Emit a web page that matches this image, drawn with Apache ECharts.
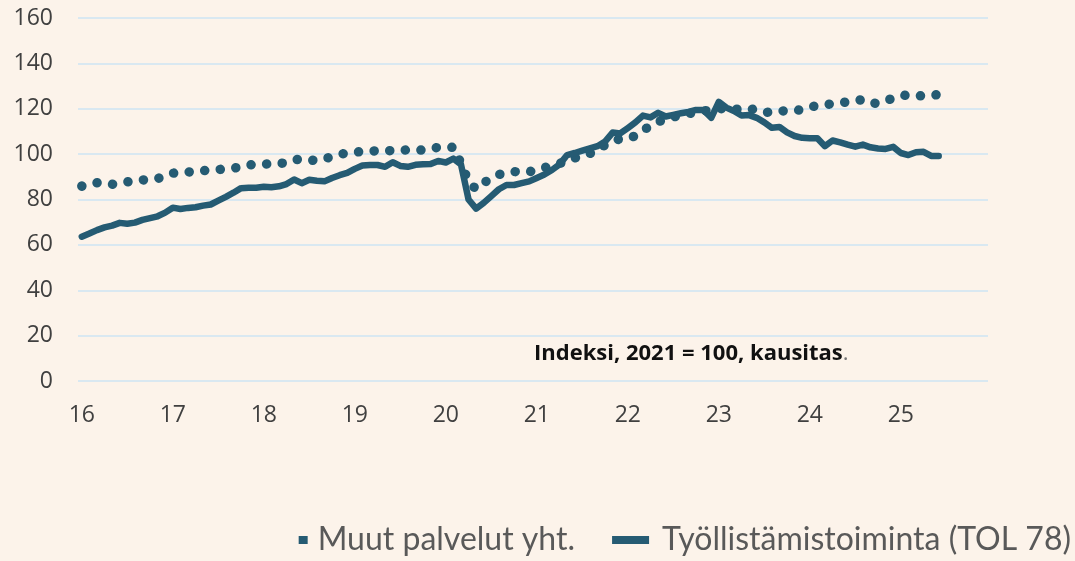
<!DOCTYPE html>
<html>
<head>
    <meta http-equiv="Content-Type" content="text/html; charset=utf-8" />
    <title>Työllistämistoiminta</title>
    <style>
        html, body { margin: 0; padding: 0; background: #fcf3ea; }
        #main { width: 1075px; height: 561px; }
    </style>
</head>
<body>
    <div id="main"></div>
    <script src="https://cdn.jsdelivr.net/npm/echarts@6/dist/echarts.min.js"></script>
    <script type="text/javascript">
        // vuodet x-akselilla (kuukausidata 2016-01 ... 2025-12)
        var years = ['16', '17', '18', '19', '20', '21', '22', '23', '24', '25'];
        var yTicks = [0, 20, 40, 60, 80, 100, 120, 140, 160];

        // Muut palvelut yht. (kuukausittain 2016-01 -> 2025-06)
        var muutPalvelut = [
            85.9, 86.8, 87.4, 87.0, 86.7, 87.2, 87.8, 88.2, 88.6, 88.9, 89.2, 90.5,
            91.6, 91.9, 92.1, 92.4, 92.7, 93.0, 93.2, 93.5, 93.8, 94.4, 95.2, 95.5,
            95.6, 95.7, 95.8, 96.3, 97.5, 97.8, 97.4, 97.2, 98.0, 98.8, 99.8, 100.6,
            100.9, 101.1, 101.3, 101.5, 101.5, 101.5, 101.7, 101.8, 101.8, 101.8, 102.4, 103.0,
            103.0, 103.0, 96.0, 88.0, 84.5, 87.3, 89.5, 91.0, 91.7, 92.3, 92.2, 92.2,
            93.2, 94.0, 95.0, 95.9, 97.0, 98.3, 99.3, 100.3, 102.0, 104.0, 105.6, 106.8,
            107.0, 108.0, 110.5, 112.5, 114.3, 115.3, 116.4, 117.0, 117.8, 118.5, 119.0, 119.5,
            120.0, 120.0, 119.8, 119.8, 120.0, 119.5, 118.4, 118.5, 119.0, 119.1, 119.2, 119.6,
            120.7, 121.4, 121.8, 122.2, 122.6, 123.0, 123.6, 124.0, 122.5, 122.4, 123.6, 124.6,
            125.7, 126.1, 125.7, 125.7, 126.0, 126.2
        ];

        // Työllistämistoiminta (TOL 78)
        var tyollistaminen = [
            63.6, 65.0, 66.5, 67.7, 68.5, 69.7, 69.3, 69.8, 71.0, 71.8, 72.6, 74.2,
            76.4, 75.8, 76.3, 76.6, 77.3, 77.8, 79.5, 81.2, 83.0, 85.0, 85.2, 85.2,
            85.6, 85.4, 85.8, 86.8, 88.8, 87.2, 88.7, 88.3, 88.0, 89.5, 90.7, 91.7,
            93.5, 95.0, 95.2, 95.2, 94.4, 96.4, 94.8, 94.4, 95.3, 95.5, 95.6, 97.0,
            96.3, 98.0, 95.5, 80.0, 76.0, 78.5, 81.5, 84.5, 86.4, 86.4, 87.2, 88.0,
            89.5, 91.0, 93.0, 95.5, 99.6, 100.5, 101.5, 102.5, 103.5, 105.5, 109.5, 109.1,
            111.5, 114.0, 117.0, 116.2, 118.2, 116.6, 117.3, 118.0, 118.6, 119.5, 119.4, 116.0,
            123.0, 120.5, 119.0, 117.0, 117.2, 116.0, 114.0, 111.6, 112.0, 109.6, 108.0, 107.2,
            107.0, 107.0, 103.5, 106.0, 105.2, 104.2, 103.3, 104.2, 103.0, 102.5, 102.3, 103.2,
            100.5, 99.6, 100.8, 101.0, 99.2, 99.2
        ];

        var months = [];
        years.forEach(function (y) {
            for (var m = 1; m <= 12; m++) {
                months.push(y + '-' + (m < 10 ? '0' + m : m));
            }
        });

        var lineColor = '#255b73';
        var legendText = { fontSize: 32, fontFamily: 'Lato', color: '#595959' };
        var myChart = echarts.init(document.getElementById('main'));

        var option = {
            animation: false,
            backgroundColor: '#fcf3ea',
            grid: { left: 78, right: 87, top: 18, bottom: 180 },
            xAxis: {
                type: 'category',
                data: months,
                boundaryGap: true,
                axisLine: { show: false },
                axisTick: { show: false },
                axisLabel: {
                    interval: function (idx) { return idx % 12 === 0; },
                    formatter: function (val) { return val.split('-')[0]; },
                    margin: 23,
                    fontSize: 23,
                    fontFamily: 'Open Sans',
                    color: '#404040'
                },
                splitLine: { show: false }
            },
            yAxis: {
                type: 'value',
                min: yTicks[0],
                max: yTicks[yTicks.length - 1],
                interval: 20,
                axisLine: { show: false },
                axisTick: { show: false },
                axisLabel: {
                    margin: 25,
                    fontSize: 23,
                    fontFamily: 'Open Sans',
                    color: '#404040'
                },
                splitLine: { lineStyle: { color: '#d9e8f1', width: 2 } }
            },
            legend: [
                {
                    data: [{ name: 'Muut palvelut yht.', icon: 'rect' }],
                    right: 500,
                    top: 524,
                    padding: 0,
                    itemWidth: 9,
                    itemHeight: 8,
                    textStyle: Object.assign({ padding: [0, 0, 0, 5] }, legendText)
                },
                {
                    data: [{ name: 'Työllistämistoiminta (TOL 78)', icon: 'rect' }],
                    right: 4,
                    top: 524,
                    padding: 0,
                    itemWidth: 37,
                    itemHeight: 8,
                    textStyle: Object.assign({ padding: [0, 0, 0, 8] }, legendText)
                }
            ],
            graphic: [
                {
                    type: 'text',
                    left: 534,
                    top: 343,
                    style: {
                        text: '{b|Indeksi, 2021 = 100, kausitas}{n|.}',
                        rich: {
                            b: { fontSize: 22, fontWeight: 'bold', fontFamily: 'Open Sans', fill: '#111' },
                            n: { fontSize: 22, fontFamily: 'Open Sans', fill: '#777' }
                        }
                    }
                }
            ],
            series: [
                {
                    name: 'Muut palvelut yht.',
                    type: 'line',
                    data: muutPalvelut,
                    showSymbol: false,
                    symbol: 'none',
                    itemStyle: { color: lineColor },
                    lineStyle: { color: lineColor, width: 9.5, type: [0.1, 15.5], cap: 'round' },
                    z: 2
                },
                {
                    name: 'Työllistämistoiminta (TOL 78)',
                    type: 'line',
                    data: tyollistaminen,
                    showSymbol: false,
                    symbol: 'none',
                    itemStyle: { color: lineColor },
                    lineStyle: { color: lineColor, width: 6.5, join: 'round', cap: 'round' },
                    z: 3
                }
            ]
        };

        myChart.setOption(option);
    </script>
</body>
</html>
